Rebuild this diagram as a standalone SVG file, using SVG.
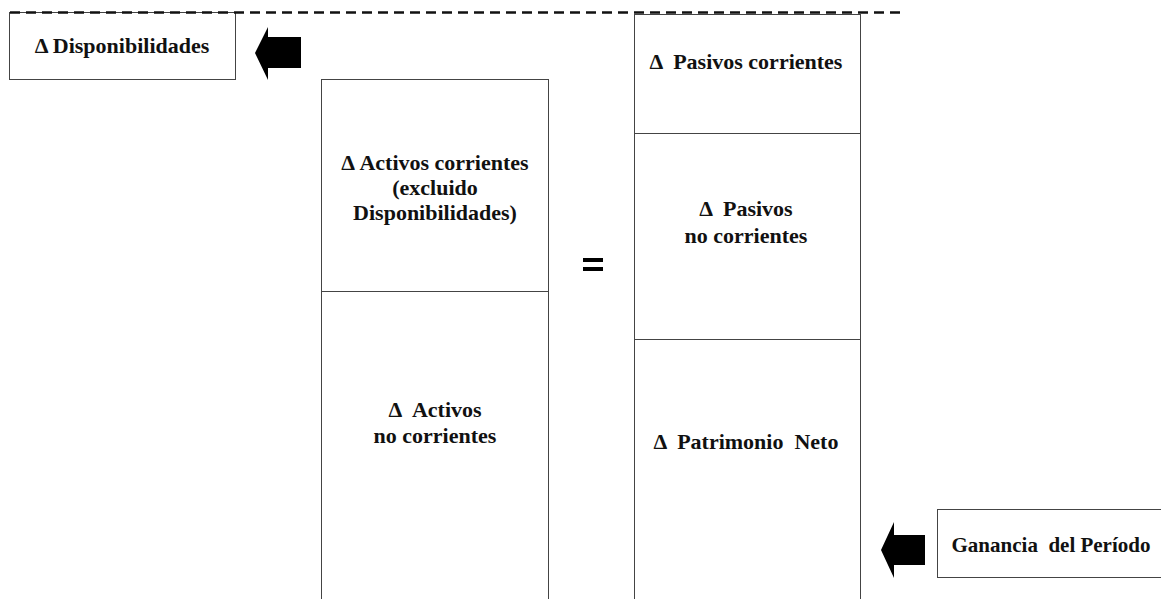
<svg xmlns="http://www.w3.org/2000/svg" width="1161" height="599" viewBox="0 0 1161 599">
<style>
.box{fill:#fff;stroke:#444;stroke-width:1}
.t{font-family:"Liberation Serif","Times New Roman",serif;font-weight:bold;font-size:22px;fill:#111;text-anchor:middle;white-space:pre}
.arr{fill:#000}
</style>
<rect width="1161" height="599" fill="#fff"/>
<g id="disponibilidades">
<rect class="box" x="9.5" y="12.5" width="226" height="67"/>
<text class="t" x="122" y="53">Δ Disponibilidades</text>
</g>
<g id="activos-corrientes">
<rect class="box" x="321.5" y="79.5" width="227" height="212"/>
<text class="t" x="435" y="170">Δ Activos corrientes</text>
<text class="t" x="435" y="195">(excluido</text>
<text class="t" x="435" y="220">Disponibilidades)</text>
</g>
<g id="activos-no-corrientes">
<rect class="box" x="321.5" y="291.5" width="227" height="320"/>
<text class="t" x="435" y="417" xml:space="preserve">Δ  Activos</text>
<text class="t" x="435" y="443">no corrientes</text>
</g>
<g id="pasivos-corrientes">
<rect class="box" x="634.5" y="14.5" width="226" height="119"/>
<text class="t" x="746" y="69" xml:space="preserve">Δ  Pasivos corrientes</text>
</g>
<g id="pasivos-no-corrientes">
<rect class="box" x="634.5" y="133.5" width="226" height="206"/>
<text class="t" x="746" y="216" xml:space="preserve">Δ  Pasivos</text>
<text class="t" x="746" y="243">no corrientes</text>
</g>
<g id="patrimonio-neto">
<rect class="box" x="634.5" y="339.5" width="226" height="270"/>
<text class="t" x="746" y="449" xml:space="preserve">Δ  Patrimonio  Neto</text>
</g>
<g id="ganancia">
<rect class="box" x="937.5" y="509.5" width="230" height="68"/>
<text class="t" x="1051" y="552" style="font-size:21px" xml:space="preserve">Ganancia  del Período</text>
</g>
<g id="igual">
<rect x="583" y="258" width="20" height="4" fill="#000"/>
<rect x="583" y="267" width="20" height="4" fill="#000"/>
</g>
<g id="connectors">
<line x1="10" y1="12.5" x2="900" y2="12.5" stroke="#111" stroke-width="2.5" stroke-dasharray="10,6"/>
<polygon class="arr" points="301,37 268,37 268,27 255,53 268,80 268,68 301,68"/>
<polygon class="arr" points="925,535 894,535 894,522 881,550 894,578 894,565 925,565"/>
</g>
</svg>
